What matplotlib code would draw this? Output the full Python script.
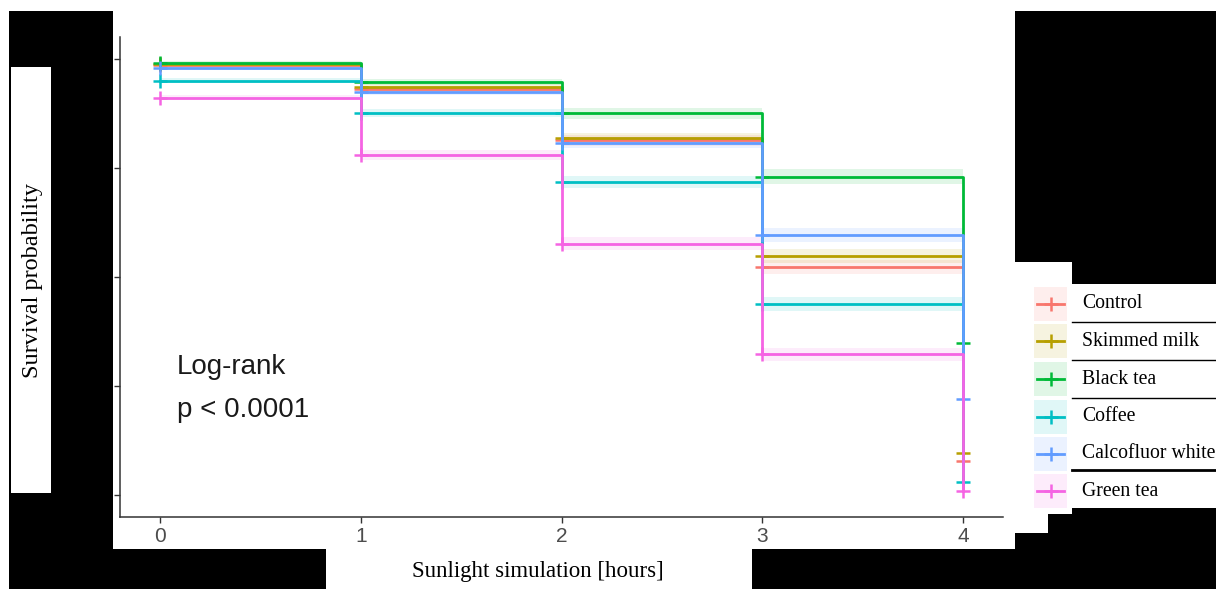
import matplotlib
matplotlib.use("Agg")
from matplotlib import pyplot as plt
from matplotlib.patches import Rectangle
from matplotlib.lines import Line2D
import numpy as np

# survival estimates at each hour of sunlight simulation
hours = [0, 1, 2, 3, 4]
groups = ["Control", "Skimmed milk", "Black tea", "Coffee", "Calcofluor white", "Green tea"]
control = [0.985, 0.930, 0.813, 0.524, 0.078]
skimmed_milk = [0.987, 0.935, 0.818, 0.548, 0.096]
black_tea = [0.991, 0.946, 0.875, 0.730, 0.349]
coffee = [0.950, 0.875, 0.718, 0.438, 0.031]
calcofluor = [0.979, 0.925, 0.808, 0.596, 0.220]
green_tea = [0.911, 0.780, 0.576, 0.323, 0.010]
# half widths of the confidence bands
control_ci = [0.004, 0.008, 0.012, 0.016, 0.010]
skimmed_ci = [0.004, 0.008, 0.012, 0.016, 0.010]
black_ci = [0.003, 0.007, 0.012, 0.018, 0.015]
coffee_ci = [0.005, 0.009, 0.014, 0.016, 0.006]
calco_ci = [0.004, 0.008, 0.012, 0.016, 0.014]
green_ci = [0.006, 0.011, 0.015, 0.015, 0.004]

series = [control, skimmed_milk, black_tea, coffee, calcofluor, green_tea]
cis = [control_ci, skimmed_ci, black_ci, coffee_ci, calco_ci, green_ci]
colors = ["#F8766D", "#B79F00", "#00BA38", "#00BFC4", "#619CFF", "#F564E3"]

W, H = 1216, 589
fig = plt.figure(figsize=(W / 100, H / 100), dpi=100)
ax = fig.add_axes([120 / W, 1 - 517 / H, 883 / W, 480 / H])

for vals, ci, c in zip(series, cis, colors):
    v = np.array(vals)
    e = np.array(ci)
    ax.fill_between(hours, v - e, v + e, step="post", color=c, alpha=0.12, lw=0)
for vals, c in zip(series, colors):
    ax.plot(hours, vals, drawstyle="steps-post", color=c, lw=2.0)
    ax.plot(hours, vals, ls="none", marker="+", ms=10, mew=1.8, color=c)

ax.set_xlim(-0.2, 4.2)
ax.set_ylim(-0.05, 1.05)
ax.set_xticks(hours)
ax.set_yticks([0, 0.25, 0.5, 0.75, 1.0])
ax.tick_params(colors="#333333", labelcolor="#4D4D4D", labelsize=15, length=4, width=1)
for s in ["top", "right"]:
    ax.spines[s].set_visible(False)
for s in ["left", "bottom"]:
    ax.spines[s].set_color("#333333")
    ax.spines[s].set_linewidth(1.1)
ax.set_xticklabels([str(h) for h in hours], family="Liberation Sans")

ax.text(0.085, 0.294, "Log-rank", fontsize=20, family="Liberation Sans",
        color="#1a1a1a", va="center")
ax.text(0.085, 0.195, "p < 0.0001", fontsize=20, family="Liberation Sans",
        color="#1a1a1a", va="center")


def px(x0, y0, x1, y1):
    return (x0 / W, 1 - y1 / H), (x1 - x0) / W, (y1 - y0) / H


def block(x0, y0, x1, y1, color="black"):
    xy, w, h = px(x0, y0, x1, y1)
    fig.add_artist(Rectangle(xy, w, h, transform=fig.transFigure,
                             facecolor=color, edgecolor="none", zorder=10))


# black panels around the plot
block(9, 11, 113, 589)
block(9, 549, 326, 589)
block(752, 549, 1216, 589)
block(1015, 533, 1216, 549)
block(1048, 514, 1216, 533)
block(1072, 508, 1216, 514)
block(1015, 11, 1216, 262)
block(1072, 262, 1216, 284)
block(11, 67, 51, 493, color="white")

fig.text(33 / W, 1 - 280 / H, "Survival probability", rotation=90, fontsize=17.5,
         family="Liberation Serif", ha="center", va="center", zorder=11)
fig.text(538 / W, 1 - 571 / H, "Sunlight simulation [hours]", fontsize=16.5,
         family="Liberation Serif", ha="center", va="center", zorder=11)

# legend keys
row_y = [304, 341, 379, 416.5, 453.5, 491]
for name, c, yc in zip(groups, colors, row_y):
    xy, w, h = px(1034, yc - 17, 1067, yc + 17)
    fig.add_artist(Rectangle(xy, w, h, transform=fig.transFigure,
                             facecolor=c, alpha=0.12, edgecolor="none", zorder=11))
    fy = 1 - yc / H
    fig.add_artist(Line2D([1037 / W, 1064 / W], [fy, fy], transform=fig.transFigure,
                          color=c, lw=2.0, zorder=12))
    fig.add_artist(Line2D([1050.5 / W], [fy], transform=fig.transFigure, color=c,
                          marker="+", ms=10, mew=1.8, zorder=12))
    fig.text(1082 / W, fy, name, fontsize=14.2, family="Liberation Serif",
             va="center", ha="left", zorder=12)

# separators between legend rows
for yl, lw in [(322, 1.0), (360, 1.0), (398, 1.0), (470, 2.0)]:
    fig.add_artist(Line2D([1072 / W, 1.0], [1 - yl / H, 1 - yl / H],
                          transform=fig.transFigure, color="black", lw=lw, zorder=12))

fig.savefig("out.png", dpi=100)
